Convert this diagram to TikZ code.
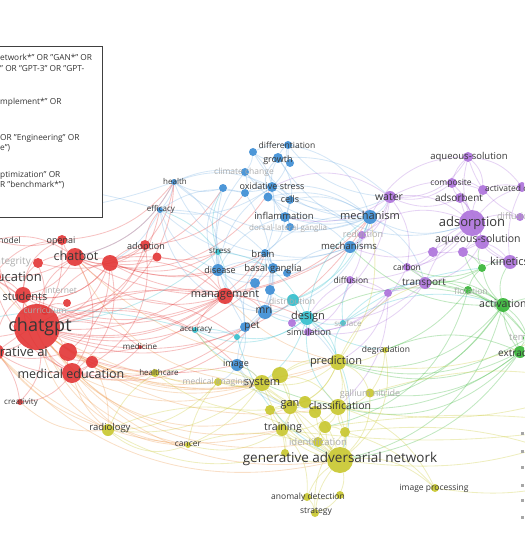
\documentclass[tikz,border=0pt]{standalone}
\usepackage{fontspec}
\setmainfont{Open Sans}
\usetikzlibrary{backgrounds}
\definecolor{vosred}{RGB}{226,52,52}
\definecolor{vosblue}{RGB}{58,140,212}
\definecolor{vosyellow}{RGB}{200,198,44}
\definecolor{vospurple}{RGB}{172,112,218}
\definecolor{vosgreen}{RGB}{52,180,52}
\definecolor{voscyan}{RGB}{48,190,204}
\definecolor{vosorange}{RGB}{236,150,70}
\definecolor{labelgray}{RGB}{55,55,55}
\definecolor{faintgray}{RGB}{172,172,172}
\begin{document}
\begin{tikzpicture}[x=1pt, y=-1pt,
	kw/.style={circle, inner sep=0pt, minimum size=#1, fill opacity=0.9},
	lbl/.style={inner sep=0pt, text=labelgray, font=\fontsize{#1}{#1}\selectfont},
	faint/.style={lbl=#1, text=faintgray},
	edge/.style={line width=0.85pt, draw opacity=0.3},
	boxtext/.style={anchor=west, inner sep=0pt, text=black!80, font=\fontsize{8.3}{8.3}\selectfont}]
	\useasboundingbox (0,0) rectangle (524,556);
	\clip (0,0) rectangle (524,556);
	% nodos
	\foreach \n/\x/\y/\d in {chatgpt/37/327/46, edu/-8/277/18, students/23/295/16, genai/-4/352/16,
		r1/68/352/18, r2/92/362/12, mededu/72/373/20, chatbot/75/257/18, openai/62/240/10,
		model/-6/240/10, integ/38/263/10, internet/67/303/8, curric/45/311/8, r3/110/263/16,
		adoption/145/245/10, r4/157/257/9, creat/20/402/6, mgmt/225/296/16, medicine/140/347/4}
		\node[kw=\d, fill=vosred] (\n) at (\x,\y) {};
	\foreach \n/\x/\y/\d in {diff/288/145/8, growth/278/158/10, b1/290/163/8, climate/245/172/8,
		b2/253/152/8, health/174/182/6, oxid/272/187/10, b3/223/188/8, b4/245/193/8, cells/268/197/9,
		b5/290/200/8, efficacy/160/210/6, inflam/285/217/10, dorsal/290/227/8, brain/265/253/8,
		basal/273/268/10, b6/287/273/8, disease/218/270/12, mechanism/370/217/14,
		mechanisms/350/247/12, mri/265/312/14, pet/245/327/10, image/237/365/12, b7/255/283/10,
		b8/270/290/10}
		\node[kw=\d, fill=vosblue] (\n) at (\x,\y) {};
	\foreach \n/\x/\y/\d in {stress/218/252/6, design/307/318/14, distrib/293/300/12,
		surface/343/323/6, accuracy/195/330/6, c1/237/337/6}
		\node[kw=\d, fill=voscyan] (\n) at (\x,\y) {};
	\foreach \n/\x/\y/\d in {aqsol/468/157/10, composite/452/183/10, activated/483/190/10,
		p1/522/187/10, adsorbent/460/198/10, adsorption/472/223/26, diffr/520/217/8,
		aqsolb/482/242/14, p2/433/252/10, p3/463/252/10, reduction/362/235/8, carbon/407/267/8,
		transport/425/283/12, diffusion/350/280/8, p4/388/293/8, kinetic/510/262/14,
		water/390/197/12, sim1/292/323/8, sim/308/332/8}
		\node[kw=\d, fill=vospurple] (\n) at (\x,\y) {};
	\foreach \n/\x/\y/\d in {g1/482/268/8, flot/468/290/8, activation/503/305/14,
		temp/528/338/10, extraction/520/352/12}
		\node[kw=\d, fill=vosgreen] (\n) at (\x,\y) {};
	\foreach \n/\x/\y/\d in {healthcare/155/373/8, prediction/338/362/16, degrad/385/350/6,
		system/262/383/16, y1/280/375/16, medimg/218/382/8, gallium/370/393/9, gan/290/407/14,
		y2/270/410/10, y3/305/402/12, y4/315/412/12, classif/338/407/16, training/282/430/12,
		y5/325/427/12, y6/345/432/10, ident/318/442/10, gannet/340/460/26, y7/285/453/8,
		cancer/188/445/6, radiology/108/430/12, anomaly/307/497/8, y8/340/495/8,
		strategy/315/513/8, improc/435/488/8}
		\node[kw=\d, fill=vosyellow] (\n) at (\x,\y) {};
	\coordinate (eastA) at (600,385);
	\coordinate (eastB) at (600,425);
	\coordinate (eastC) at (600,470);
	\coordinate (eastD) at (600,300);
	\coordinate (westA) at (-60,200);
	\coordinate (westB) at (-60,330);
	% etiquetas
	\foreach \n/\x/\y/\s/\t in {chatgpt/40/327/18/chatgpt, students/25/296/11/students,
		mededu/71/374/12.5/medical education, chatbot/76/256/12.5/chatbot, openai/61/241/9/openai,
		adoption/146/247/9/adoption, medicine/140/346/8/medicine, healthcare/159/372/8/healthcare,
		creat/21/403/8/creativity, mgmt/225/295/11/management,
		diff/287/145/8.5/differentiation, growth/278/160/9/growth, health/175/181/8/health,
		oxid/272/186/9/oxidative stress, cells/290/199/9/cells, efficacy/161/209/8/efficacy,
		inflam/284/216/9.5/inflammation, brain/263/254/9.5/brain, basal/273/269/9.5/basal ganglia,
		disease/220/270/9/disease, stress/220/251/8/stress, mri/264/310/10.5/mri, pet/252/326/10/pet,
		image/236/364/9/image, accuracy/196/330/8/accuracy, design/308/317/11/design,
		sim/309/332/9/simulation, mechanism/370/215/11/mechanism,
		mechanisms/349/246/9.5/mechanisms, water/389/197/10.5/water,
		diffusion/351/280/8.5/diffusion, carbon/407/267/8.5/carbon, transport/424/283/10/transport,
		degrad/386/350/8.5/degradation, aqsol/469/157/9.5/aqueous-solution,
		composite/451/183/8.5/composite, adsorbent/459/198/10/adsorbent,
		adsorption/472/223/13/adsorption, prediction/336/362/11/prediction,
		system/262/383/11/system, gan/290/405/11/gan, classif/340/406/10.5/classification,
		training/283/428/10.5/training, gannet/340/459/13.5/generative adversarial network,
		cancer/188/444/8.5/cancer, radiology/110/428/9.5/radiology,
		anomaly/308/497/8.5/anomaly detection, strategy/316/512/8.5/strategy,
		improc/434/488/8.5/image processing}
		\node[lbl=\s] (l\n) at (\x,\y) {\t};
	\foreach \n/\x/\y/\s/\t in {internet/61/290/8.5/internet, curric/45/310/8.5/curriculum,
		climate/244/172/8.5/climate change, distrib/292/301/8.5/distribution,
		surface/348/323/8/surface, reduction/363/234/9/reduction, flot/471/291/8.5/flotation,
		medimg/215/382/8.5/medical imaging, gallium/370/394/9/gallium nitride,
		ident/318/442/9.5/identification}
		\node[faint=\s] (l\n) at (\x,\y) {\t};
	\node[lbl=13, anchor=east] (ledu) at (42,277) {education};
	\node[lbl=13, anchor=east] (lgenai) at (48,353) {generative ai};
	\node[lbl=8.5, anchor=east] (lmodel) at (21,240) {model};
	\node[faint=10, anchor=east] (linteg) at (31,262) {integrity};
	\node[faint=8, anchor=west] (ldorsal) at (249,228) {dorsal-lateral ganglia};
	\node[lbl=8.5, anchor=west] (lactivated) at (485,188) {activated carbon};
	\node[faint=9, anchor=west] (ldiffr) at (497,216) {diffusion};
	\node[lbl=10.5, anchor=west] (laqsolb) at (435,240) {aqueous-solution};
	\node[lbl=11, anchor=west] (lkinetic) at (490,261) {kinetics};
	\node[lbl=10.5, anchor=west] (lactivation) at (479,304) {activation};
	\node[faint=9.5, anchor=west] (ltemp) at (509,339) {temperature};
	\node[lbl=10, anchor=west] (lextraction) at (498,353) {extraction};
	% leyenda cortada
	\foreach \y in {433,451,467,485,500,517}
		\fill[black!35] (521,\y-1.5) rectangle (524,\y+1.5);
	% enlaces
	\begin{scope}[on background layer]
		\foreach \a/\b/\k in {chatgpt/students/10, chatgpt/edu/-10, chatgpt/genai/10, chatgpt/mededu/-10,
			chatgpt/r1/10, chatgpt/r2/-15, chatgpt/chatbot/15, chatgpt/openai/-10, chatgpt/model/10,
			chatgpt/integ/-10, chatgpt/internet/15, chatgpt/r3/-15, chatgpt/adoption/-20, chatgpt/r4/20,
			chatgpt/creat/15, chatgpt/mgmt/-15, chatgpt/medicine/15, chatgpt/health/-25,
			chatgpt/efficacy/-20, chatgpt/disease/-15, chatgpt/brain/-20, chatgpt/mechanism/-25,
			chatgpt/accuracy/15, chatgpt/image/20, chatgpt/design/15, chatgpt/c1/20,
			chatbot/openai/10, chatbot/r3/-15, chatbot/adoption/-20, chatbot/mededu/20, chatbot/mgmt/-20,
			chatbot/health/-15, chatbot/students/15, chatbot/edu/10, chatbot/integ/-10,
			mededu/r1/10, mededu/r2/-10, mededu/students/20, mededu/medicine/-15, mededu/creat/15,
			mededu/r3/-20, mededu/genai/10, mededu/edu/15, mededu/adoption/-25,
			r3/adoption/10, r3/r4/-10, r3/mgmt/15, r3/stress/-15, r3/students/20, r3/r1/15,
			edu/students/10, edu/genai/-15, edu/openai/15, genai/creat/10, genai/r1/-10, openai/model/10,
			students/integ/15, mgmt/disease/10, mgmt/brain/-15, mgmt/mri/15, mgmt/accuracy/-10,
			adoption/health/-10, adoption/efficacy/10, r4/stress/-10, r4/mgmt/15, r1/mgmt/-15,
			students/r3/-20, edu/mgmt/-20, genai/mgmt/15, chatgpt/westB/10, edu/westA/15,
			chatbot/b3/-20, chatbot/oxid/-25, r3/brain/-15, r3/disease/-10, chatgpt/basal/-20,
			mededu/mri/-20, mededu/pet/-15, chatgpt/pet/-15, r1/image/-10, openai/health/-15,
			students/mgmt/-15, integ/adoption/-15, model/chatbot/15, chatbot/mechanisms/-20,
			r3/mechanism/-25, adoption/b4/-15, students/openai/20, genai/students/15}
			\draw[edge, vosred] (\a) to[bend left=1.5*\k] (\b);
		\foreach \a/\b/\k in {chatgpt/radiology/-15, chatgpt/cancer/-20, chatgpt/system/-15,
			chatgpt/healthcare/-10, chatgpt/gannet/-20, chatgpt/prediction/-15, chatgpt/training/-20,
			chatgpt/classif/-15, mededu/radiology/-10, mededu/healthcare/-10, mededu/system/-15,
			mededu/cancer/-20, r1/system/-15, r2/medimg/-10, genai/gannet/-20, chatbot/system/-20,
			mededu/gan/-20, r2/radiology/10, creat/radiology/-15, genai/training/-20,
			r1/prediction/-15, chatgpt/ident/-20, genai/radiology/-10, edu/system/-20,
			students/cancer/-20, r2/healthcare/-10, chatbot/prediction/-15, mgmt/prediction/-10}
			\draw[edge, vosorange] (\a) to[bend left=1.5*\k] (\b);
		\foreach \a/\b/\k in {oxid/growth/10, oxid/diff/-15, oxid/cells/10, oxid/inflam/-10, oxid/b3/10,
			oxid/b4/-10, oxid/b5/15, oxid/climate/10, oxid/health/-15, oxid/efficacy/15, oxid/brain/10,
			oxid/disease/-15, oxid/mechanism/15, oxid/b2/-10, growth/diff/10, growth/b1/-10,
			growth/b2/15, growth/cells/-20, growth/inflam/20, cells/inflam/10, cells/b5/-10,
			cells/mechanism/15, inflam/dorsal/10, inflam/mechanism/-10, inflam/brain/15,
			inflam/disease/-15, health/efficacy/10, health/b3/-15, health/climate/10, health/disease/20,
			efficacy/b4/15, mechanism/mechanisms/10, mechanism/water/-10, mechanism/reduction/15,
			mechanism/b5/-15, mechanism/dorsal/10, mechanism/mri/20, mechanism/brain/-15,
			mechanisms/brain/10, mechanisms/b6/-15, mechanisms/disease/15, brain/basal/10, brain/b6/-10,
			brain/mri/15, brain/pet/-15, brain/disease/10, brain/b7/15, basal/b8/-10, basal/mri/10,
			basal/disease/-15, basal/pet/15, mri/pet/10, mri/image/-15, mri/b7/10, mri/b8/-10,
			mri/disease/15, pet/image/10, pet/disease/-15, b7/disease/10, disease/b3/20,
			disease/stress/10, dorsal/b5/10, b1/diff/15, diff/b2/-10, climate/b2/-10, climate/b4/10,
			health/mechanism/-20, efficacy/mechanisms/-20, efficacy/brain/15, mechanism/adsorption/-15,
			mechanism/transport/15, mechanisms/carbon/15, mri/prediction/15, image/system/10,
			image/gan/-15, image/classif/-20, pet/accuracy/10, image/medimg/10, disease/efficacy/15,
			diff/mechanism/20, growth/water/15, health/brain/-20, efficacy/mri/-25, health/westA/10,
			efficacy/westA/-10, health/chatbot/15, efficacy/r3/10, climate/mechanism/-20,
			oxid/water/-20, inflam/mechanisms/15, diff/water/-15, b2/mechanism/-20,
			growth/adsorption/-25, cells/reduction/15, b3/pet/-15, b4/mri/15, climate/disease/-15}
			\draw[edge, vosblue!70] (\a) to[bend left=1.5*\k] (\b);
		\foreach \a/\b/\k in {design/distrib/10, design/surface/-10, design/sim/10, design/sim1/-10,
			design/mri/15, design/accuracy/20, design/c1/15, design/stress/-20, design/prediction/15,
			design/classif/-15, design/system/10, distrib/b8/10, distrib/mechanisms/-15,
			surface/diffusion/10, surface/transport/15, accuracy/c1/10, accuracy/image/-10,
			stress/mgmt/10, stress/efficacy/-10, design/gannet/20, c1/pet/10, surface/activation/15,
			design/degrad/-10, stress/b3/15, distrib/mri/15, surface/prediction/-15,
			design/mechanism/15, distrib/mechanism/-15, surface/g1/10, accuracy/westB/-10,
			stress/chatgpt/10, c1/gannet/-15}
			\draw[edge, voscyan] (\a) to[bend left=1.5*\k] (\b);
		\foreach \a/\b/\k in {adsorption/aqsol/10, adsorption/composite/-10, adsorption/activated/10,
			adsorption/adsorbent/-10, adsorption/aqsolb/10, adsorption/p2/-10, adsorption/p3/10,
			adsorption/kinetic/-15, adsorption/diffr/10, adsorption/water/-15, adsorption/carbon/15,
			adsorption/transport/-10, adsorption/p1/10, adsorption/reduction/-20,
			adsorption/diffusion/15, composite/aqsol/10, composite/adsorbent/-10, composite/activated/15,
			activated/p1/10, activated/aqsol/-15, adsorbent/aqsolb/10, adsorbent/water/15,
			adsorbent/kinetic/-15, aqsolb/p2/10, aqsolb/p3/-10, aqsolb/kinetic/10, aqsolb/transport/15,
			p2/carbon/10, p3/kinetic/-10, carbon/transport/10, carbon/water/-15, transport/diffusion/15,
			transport/p4/-10, diffusion/p4/10, diffusion/reduction/-10, sim/sim1/10, sim/diffusion/-15,
			sim1/water/-20, water/aqsol/-20, water/reduction/10, water/composite/-15, p4/sim/15,
			reduction/mechanisms/10, kinetic/p1/10, aqsol/diffr/-15, water/mechanisms/15,
			water/oxid/-20, aqsol/p1/15, sim/transport/-20, p4/prediction/15,
			adsorption/mechanisms/20, transport/design/15, carbon/sim/20, water/inflam/15,
			diffusion/design/-10, p4/classif/15, aqsol/mechanism/-20, activated/water/-15}
			\draw[edge, vospurple] (\a) to[bend left=1.5*\k] (\b);
		\foreach \a/\b/\k in {activation/g1/10, activation/flot/-10, activation/temp/10,
			activation/extraction/-10, activation/kinetic/15, activation/transport/-15,
			activation/p3/10, activation/prediction/20, activation/classif/15, activation/gannet/20,
			g1/kinetic/10, g1/flot/-10, g1/aqsolb/15, g1/transport/10, flot/transport/-10,
			flot/extraction/15, extraction/temp/10, extraction/prediction/15, extraction/degrad/-15,
			extraction/gallium/15, temp/flot/-10, g1/carbon/15, g1/p3/-10, activation/design/-15,
			activation/mechanisms/15, flot/carbon/10, extraction/system/20, temp/transport/-15,
			activation/eastD/10, extraction/eastA/-10, flot/y5/20, gannet/extraction/-15,
			classif/extraction/-20, gallium/activation/-15, degrad/flot/-10, temp/prediction/15}
			\draw[edge, vosgreen] (\a) to[bend left=1.5*\k] (\b);
		\foreach \a/\b/\k in {gannet/training/10, gannet/classif/-10, gannet/gan/10, gannet/ident/-10,
			gannet/y5/10, gannet/y6/-10, gannet/y7/10, gannet/anomaly/-10, gannet/y8/10,
			gannet/strategy/-10, gannet/improc/15, gannet/system/15, gannet/prediction/-10,
			gannet/y1/10, gannet/y3/-10, gannet/y4/10, gannet/gallium/-15, gannet/cancer/-15,
			gannet/radiology/-20, gannet/medimg/-15, gannet/degrad/-20, gan/system/10, gan/y1/-10,
			gan/training/10, gan/y2/-10, gan/classif/15, gan/y3/10, gan/y4/-10, gan/prediction/-15,
			system/y1/10, system/image/-10, system/medimg/10, system/prediction/-15,
			system/healthcare/-10, system/radiology/15, system/cancer/10, system/classif/-15,
			prediction/classif/10, prediction/degrad/-10, prediction/gallium/15, prediction/y1/-10,
			classif/y5/10, classif/y6/-10, classif/training/15, classif/gallium/-10, training/y7/10,
			training/ident/-10, training/y2/15, y5/y6/10, y5/ident/-10, anomaly/strategy/10,
			anomaly/y8/-10, y8/strategy/10, strategy/y6/15, anomaly/training/-15,
			radiology/cancer/-20, radiology/medimg/-15, radiology/healthcare/10,
			healthcare/medimg/-10, cancer/training/-15, cancer/medimg/10, improc/classif/-15,
			improc/y6/-10, y1/prediction/15, degrad/gallium/10, y3/prediction/-10, y4/y5/10,
			system/accuracy/10, prediction/transport/15, prediction/mechanism/-15,
			classif/eastA/-10, gannet/eastB/-10, improc/eastC/-10, gallium/eastA/10, y5/eastB/5,
			prediction/eastD/-15, radiology/y7/-15, healthcare/gan/-15, training/eastB/-5,
			y6/eastC/10, y1/classif/15, y3/training/-10, y2/y7/10, gan/medimg/-15}
			\draw[edge, vosyellow] (\a) to[bend left=1.5*\k] (\b);
	\end{scope}
	% recuadro de la consulta
	\draw[black!75, line width=1pt, fill=white] (-5,47) rectangle (102,217);
	\node[boxtext] (q1) at (0,57) {etwork*" OR "GAN*" OR};
	\node[boxtext] (q2) at (0,69) {" OR "GPT-3" OR "GPT-};
	\node[boxtext] (q3) at (0,102) {mplement*" OR};
	\node[boxtext] (q4) at (0,138) {OR "Engineering" OR};
	\node[boxtext] (q5) at (0,148) {e")};
	\node[boxtext] (q6) at (0,175) {ptimization" OR};
	\node[boxtext] (q7) at (0,185) {R "benchmark*")};
\end{tikzpicture}
\end{document}
